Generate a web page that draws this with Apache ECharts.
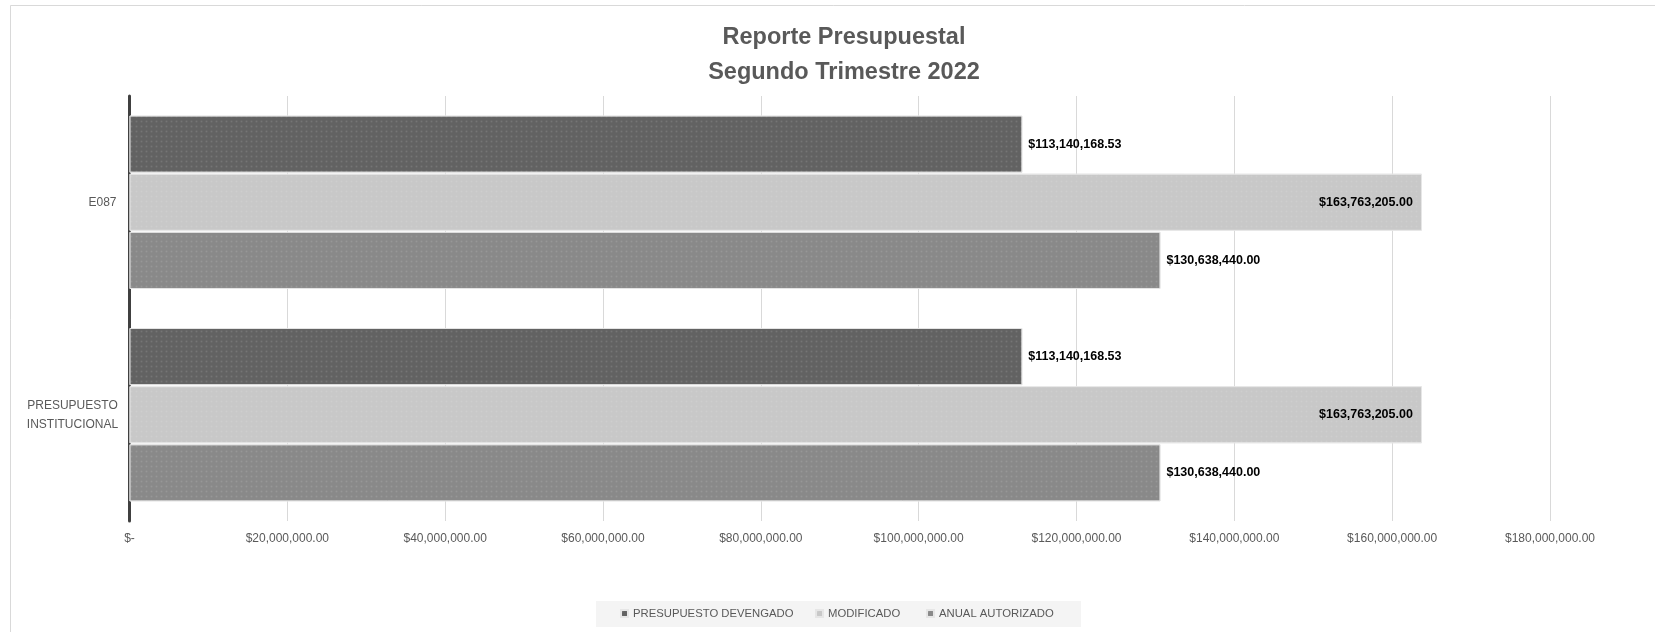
<!DOCTYPE html>
<html>
<head>
<meta charset="utf-8">
<script src="https://cdn.jsdelivr.net/npm/echarts@6/dist/echarts.min.js"></script>
<style>
html,body{margin:0;padding:0;background:#fff;}
#chart{width:1655px;height:632px;}
</style>
</head>
<body>
<div id="chart"></div>
<script>
const categories = ['PRESUPUESTO INSTITUCIONAL', 'E087'];
const seriesNames = ['PRESUPUESTO DEVENGADO', 'MODIFICADO', 'ANUAL AUTORIZADO'];
const devengado = [113140168.53, 113140168.53];
const modificado = [163763205.00, 163763205.00];
const anualAutorizado = [130638440.00, 130638440.00];
const xTicks = [0, 20000000, 40000000, 60000000, 80000000, 100000000, 120000000, 140000000, 160000000, 180000000];

const FONT = 'Liberation Sans';
function money(v) {
  if (v === 0) return '$-';
  return '$' + v.toLocaleString('en-US', {minimumFractionDigits: 2, maximumFractionDigits: 2});
}

const chart = echarts.init(document.getElementById('chart'), null, {renderer: 'canvas'});

function mkSeries(name, data, color, pos, dist) {
  return {
    name: name,
    type: 'bar',
    data: data,
    barWidth: 57,
    barGap: '2%',
    itemStyle: {
      color: color, borderColor: '#e6e6e6', borderWidth: 0.8,
      decal: {symbol: 'rect', symbolSize: 0.6, dashArrayX: [[3, 2]], dashArrayY: [3, 2], color: 'rgba(255,255,255,0.12)'}
    },
    label: {
      show: true,
      position: pos,
      distance: dist,
      formatter: p => money(p.value),
      fontFamily: FONT,
      fontWeight: 'bold',
      fontSize: 12.5,
      color: '#000'
    }
  };
}

const legendBase = {
  icon: 'rect', itemWidth: 7, itemHeight: 7, itemGap: 5,
  top: 608, padding: 0,
  textStyle: {fontFamily: FONT, fontSize: 11.3, color: '#595959'}
};

const option = {
  animation: false,
  backgroundColor: '#fff',
  title: {
    text: 'Reporte Presupuestal\nSegundo Trimestre 2022',
    left: 839, top: 15, textAlign: 'center',
    textStyle: {fontFamily: FONT, fontWeight: 'bold', fontSize: 23.5, color: '#595959', lineHeight: 35}
  },
  graphic: [
    {type: 'rect', z: -10, shape: {x: 10.5, y: 5.5, width: 1700, height: 700}, style: {fill: '#fff', stroke: '#d9d9d9', lineWidth: 1}},
    {type: 'rect', z: -5, shape: {x: 596, y: 601, width: 485, height: 26}, style: {fill: '#f4f4f4', stroke: null}}
  ],
  legend: [
    Object.assign({}, legendBase, {left: 620, data: [seriesNames[0]]}),
    Object.assign({}, legendBase, {left: 815, data: [seriesNames[1]]}),
    Object.assign({}, legendBase, {left: 926, data: [seriesNames[2]]})
  ],
  grid: {left: 129.5, right: 105, top: 96, bottom: 111, containLabel: false},
  xAxis: {
    type: 'value',
    min: 0, max: 180000000, interval: 20000000,
    axisLine: {show: false},
    axisTick: {show: false},
    splitLine: {show: true, lineStyle: {color: '#d9d9d9', width: 1}},
    axisLabel: {
      formatter: v => money(v),
      fontFamily: FONT, fontSize: 12, color: '#595959', margin: 12
    }
  },
  yAxis: {
    type: 'category',
    data: categories,
    axisLine: {show: true, lineStyle: {color: '#404040', width: 3}},
    axisTick: {show: false},
    axisLabel: {
      margin: 13,
      fontFamily: FONT, fontSize: 12, color: '#595959',
      formatter: v => v === 'PRESUPUESTO INSTITUCIONAL' ? '{c|PRESUPUESTO}\n{c|INSTITUCIONAL}' : v,
      rich: {c: {width: 88, align: 'center', fontFamily: FONT, fontSize: 12, color: '#595959', lineHeight: 19}}
    }
  },
  series: [
    mkSeries(seriesNames[0], devengado, '#626262', 'right', 6),
    mkSeries(seriesNames[1], modificado, '#c8c8c8', 'insideRight', 9),
    mkSeries(seriesNames[2], anualAutorizado, '#898989', 'right', 6)
  ]
};
chart.setOption(option);
</script>
</body>
</html>
